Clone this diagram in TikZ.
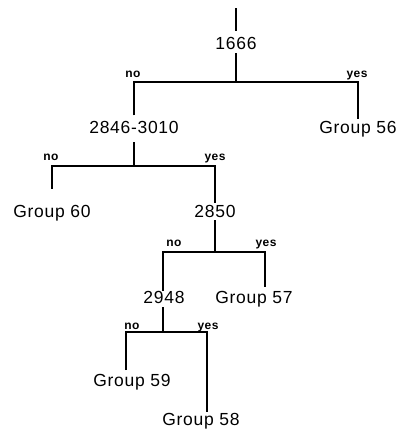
\documentclass[tikz,border=0pt]{standalone}
\usepackage{fontspec}
\setmainfont{Liberation Sans}
\newfontfamily\nodefont[LetterSpace=4]{Liberation Sans}
\newfontfamily\ynfont[LetterSpace=4]{Liberation Sans}
\begin{document}
\begin{tikzpicture}[x=1pt,y=-1pt,
  line width=1.7pt,
  lbl/.style={font=\nodefont\fontsize{17.5}{20}\selectfont, inner sep=0pt, outer sep=0pt, anchor=base},
  yn/.style={font=\ynfont\bfseries\fontsize{12}{14}\selectfont, inner sep=0pt, anchor=base}]
\useasboundingbox (0,0) rectangle (403,434);
% nodes
\node[lbl] (a) at (236,49) {1666};
\node[lbl] (b) at (134,133) {2846-3010};
\node[lbl] (g56) at (358,133) {Group 56};
\node[lbl] (g60) at (52,217) {Group 60};
\node[lbl] (c) at (215,217) {2850};
\node[lbl] (d) at (164,303) {2948};
\node[lbl] (g57) at (254,303) {Group 57};
\node[lbl] (g59) at (132,386) {Group 59};
\node[lbl] (g58) at (201,425) {Group 58};
% junctions
\coordinate (top) at (236,8);
\coordinate (jA) at (236,82);
\coordinate (jB) at (134,166);
\coordinate (jC) at (215,252);
\coordinate (jD) at (163,332);
\coordinate (e57) at (265,287);
\coordinate (e59) at (126,370);
\coordinate (e58) at (207,412);
% connectors
\draw[shorten >=5.5pt] (top) -- (a.north);
\draw[shorten <=4pt] (a.south) -- (jA);
\draw[shorten <=5.5pt] (b.north) |- (jA) -| ([yshift=2pt]g56.north);
\draw[shorten <=9pt] (b.south) -- (jB);
\draw ([yshift=16pt]g60.north) |- (jB) -| ([yshift=1.5pt]c.north);
\draw[shorten <=3pt] (c.south) -- (jC);
\draw (jD |- d.north) |- (jC) -| (e57);
\draw[shorten >=4pt] (jD) -- (jD |- d.south);
\draw (e59) |- (jD) -| (e58);
% labels
\node[yn] (n1) at (133,77) {no};
\node[yn] (y1) at (357,77) {yes};
\node[yn] (n2) at (51,160) {no};
\node[yn] (y2) at (215,160) {yes};
\node[yn] (n3) at (174,246) {no};
\node[yn] (y3) at (266,246) {yes};
\node[yn] (n4) at (132,329) {no};
\node[yn] (y4) at (208,329) {yes};
\end{tikzpicture}
\end{document}
